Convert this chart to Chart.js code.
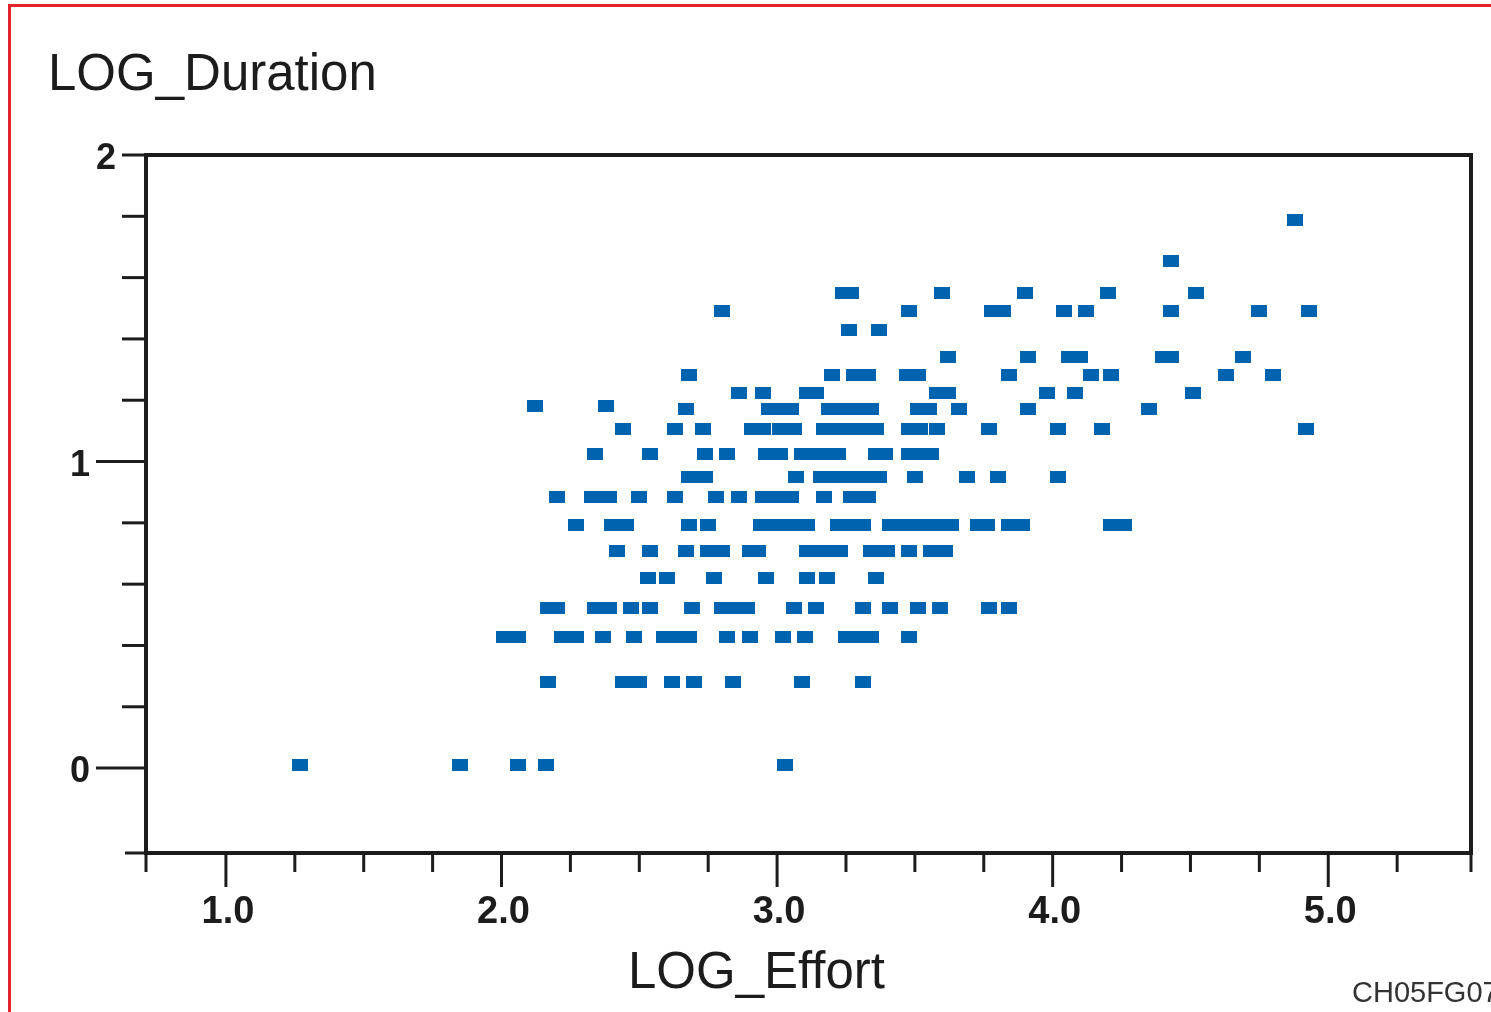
<!DOCTYPE html>
<html>
<head>
<meta charset="utf-8">
<title>LOG_Duration vs LOG_Effort</title>
<script src="https://cdn.jsdelivr.net/npm/chart.js@4.4.0/dist/chart.umd.min.js"></script>
<style>
    html, body { margin: 0; padding: 0; background: #fff; overflow: hidden; }
    #wrap { position: relative; width: 1491px; height: 1012px; overflow: hidden; }
    #frame { position: absolute; left: 8px; top: 4px; width: 1600px; height: 1100px; border: 3px solid #e3232b; }
    #chart { position: absolute; left: 0; top: 0; }
    .txt { position: absolute; font-family: "Liberation Sans", Arial, sans-serif; color: #1c1c1c; white-space: nowrap; line-height: 1; }
    #ytitle { left: 48px; top: 47px; font-size: 51px; }
    #xtitle { left: 628px; top: 945px; font-size: 51px; }
    #figid { left: 1352px; top: 978px; font-size: 29px; color: #333; }
</style>
</head>
<body>
<div id="wrap">
    <div id="frame"></div>
    <canvas id="chart" width="1491" height="1012"></canvas>
    <div class="txt" id="ytitle">LOG_Duration</div>
    <div class="txt" id="xtitle">LOG_Effort</div>
    <div class="txt" id="figid">CH05FG07</div>
</div>
<script>
// Duration levels (rows) and the effort values found on each row
const logDuration = [1.788, 1.654, 1.550, 1.491, 1.429, 1.341, 1.282, 1.223, 1.181, 1.171,
    1.106, 1.024, 0.949, 0.884, 0.793, 0.708, 0.620, 0.522, 0.427, 0.281, 0.010];

const logEffort = [
    [4.88],
    [4.43],
    [3.24, 3.27, 3.60, 3.90, 4.20, 4.52],
    [2.80, 3.48, 3.78, 3.82, 4.04, 4.12, 4.43, 4.75, 4.93],
    [3.26, 3.37],
    [3.62, 3.91, 4.06, 4.10, 4.40, 4.43, 4.69],
    [2.68, 3.20, 3.28, 3.30, 3.33, 3.47, 3.51, 3.84, 4.14, 4.21, 4.63, 4.80],
    [2.86, 2.95, 3.11, 3.14, 3.58, 3.62, 3.98, 4.08, 4.51],
    [2.12, 2.38],
    [2.67, 2.97, 3.01, 3.05, 3.19, 3.23, 3.27, 3.32, 3.34, 3.51, 3.55, 3.66, 3.91, 4.35],
    [2.44, 2.63, 2.73, 2.91, 2.95, 3.01, 3.06, 3.17, 3.21, 3.26, 3.31, 3.36, 3.48, 3.52, 3.58, 3.77, 4.02, 4.18, 4.92],
    [2.34, 2.54, 2.74, 2.82, 2.96, 3.01, 3.09, 3.13, 3.18, 3.22, 3.36, 3.39, 3.48, 3.52, 3.56],
    [2.68, 2.71, 2.74, 3.07, 3.16, 3.20, 3.25, 3.30, 3.34, 3.37, 3.50, 3.69, 3.80, 4.02],
    [2.20, 2.33, 2.36, 2.39, 2.50, 2.63, 2.78, 2.86, 2.95, 3.00, 3.05, 3.17, 3.27, 3.30, 3.33],
    [2.27, 2.40, 2.45, 2.68, 2.75, 2.94, 2.99, 3.03, 3.08, 3.11, 3.22, 3.26, 3.31, 3.41, 3.45, 3.50, 3.55, 3.59, 3.63, 3.73, 3.76, 3.84, 3.89, 4.21, 4.26],
    [2.42, 2.54, 2.67, 2.75, 2.80, 2.90, 2.93, 3.11, 3.15, 3.19, 3.23, 3.34, 3.37, 3.40, 3.48, 3.56, 3.61],
    [2.53, 2.60, 2.77, 2.96, 3.11, 3.18, 3.36],
    [2.17, 2.20, 2.34, 2.39, 2.47, 2.54, 2.69, 2.80, 2.84, 2.89, 3.06, 3.14, 3.31, 3.41, 3.51, 3.59, 3.77, 3.84],
    [2.01, 2.06, 2.22, 2.27, 2.37, 2.48, 2.59, 2.64, 2.68, 2.82, 2.90, 3.02, 3.10, 3.25, 3.29, 3.34, 3.48],
    [2.17, 2.44, 2.50, 2.62, 2.70, 2.84, 3.09, 3.31],
    [1.27, 1.85, 2.06, 2.16, 3.03]
];

// Axis ranges and ticks
const xRange = [0.71, 5.518];
const yRange = [-0.277, 2];
const xTicks = [1, 1.25, 1.5, 1.75, 2, 2.25, 2.5, 2.75, 3, 3.25, 3.5, 3.75, 4, 4.25, 4.5, 4.75, 5, 5.25];
const xLabels = [1, 2, 3, 4, 5];
const yTicks = [0, 0.2, 0.4, 0.6, 0.8, 1, 1.2, 1.4, 1.6, 1.8, 2];
const yLabels = [0, 1, 2];

const INK = '#1c1c1c';
const MARK = '#0063b0';

// flatten rows into scatter points
const points = [];
logDuration.forEach((d, i) => {
    logEffort[i].forEach(e => points.push({ x: e, y: d }));
});

// rectangular marker
const marker = document.createElement('canvas');
marker.width = 16;
marker.height = 12;
const mctx = marker.getContext('2d');
mctx.fillStyle = MARK;
mctx.fillRect(0, 0, 16, 12);

function line(ctx, x1, y1, x2, y2, w) {
    ctx.lineWidth = w;
    ctx.beginPath();
    ctx.moveTo(x1, y1);
    ctx.lineTo(x2, y2);
    ctx.stroke();
}

// frame, tick marks and tick labels drawn from the chart scales
const axisDecor = {
    id: 'axisDecor',
    afterDraw(chart) {
        const ctx = chart.ctx;
        const a = chart.chartArea;
        const xs = chart.scales.x;
        const ys = chart.scales.y;
        ctx.save();
        ctx.strokeStyle = INK;
        ctx.fillStyle = INK;
        ctx.lineCap = 'butt';

        // y ticks
        yTicks.forEach(v => {
            const py = ys.getPixelForValue(v);
            const major = v === 0 || v === 1;
            line(ctx, a.left - (major ? 50 : 24), py, a.left, py, 3);
        });
        // x axis extends a little to the left
        line(ctx, a.left - 21, a.bottom, a.left, a.bottom, 3);

        // x ticks
        xTicks.forEach(v => {
            const px = xs.getPixelForValue(v);
            const major = Number.isInteger(v);
            line(ctx, px, a.bottom, px, a.bottom + (major ? 34 : 19), 3);
        });
        line(ctx, a.left, a.bottom, a.left, a.bottom + 19, 3);
        line(ctx, a.right, a.bottom, a.right, a.bottom + 19, 3);

        // frame
        ctx.lineWidth = 4;
        ctx.strokeRect(a.left, a.top, a.right - a.left, a.bottom - a.top);

        // tick labels
        ctx.font = 'bold 38px "Liberation Sans", Arial, sans-serif';
        ctx.textAlign = 'center';
        ctx.textBaseline = 'alphabetic';
        xLabels.forEach(v => {
            ctx.fillText(v.toFixed(1), xs.getPixelForValue(v) + 2, 923);
        });
        ctx.font = 'bold 36px "Liberation Sans", Arial, sans-serif';
        ctx.textAlign = 'right';
        yLabels.forEach(v => {
            const py = ys.getPixelForValue(v);
            const right = v === 2 ? a.left - 30 : a.left - 56;
            ctx.fillText(String(v), right, py + 14);
        });
        ctx.restore();
    }
};

new Chart(document.getElementById('chart'), {
    type: 'scatter',
    data: {
        datasets: [{
            label: 'LOG_Duration',
            data: points,
            pointStyle: marker,
            pointRadius: 8,
            pointHoverRadius: 8,
            backgroundColor: MARK,
            borderColor: MARK
        }]
    },
    options: {
        responsive: false,
        devicePixelRatio: 1,
        animation: false,
        layout: {
            padding: { left: 146, right: 20, top: 155, bottom: 159 }
        },
        plugins: {
            legend: { display: false },
            tooltip: { enabled: false }
        },
        scales: {
            x: { type: 'linear', display: false, min: xRange[0], max: xRange[1] },
            y: { type: 'linear', display: false, min: yRange[0], max: yRange[1] }
        }
    },
    plugins: [axisDecor]
});
</script>
</body>
</html>
